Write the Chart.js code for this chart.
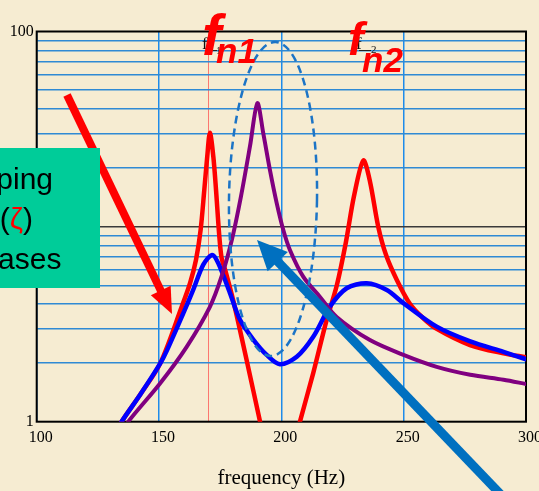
<!DOCTYPE html>
<html>
<head>
<meta charset="utf-8">
<script src="https://cdn.jsdelivr.net/npm/chart.js@4.4.1/dist/chart.umd.min.js"></script>
<style>
  html, body { margin: 0; padding: 0; background: #F6ECD2; }
  canvas { display: block; }
</style>
</head>
<body>
<canvas id="c" width="539" height="491"></canvas>
<script>
// ---- data ----
const redFreq = [131, 134.7, 142.2, 150.5, 159.3, 162.7, 165.1, 167.0, 168.5, 169.7, 170.8, 172.2, 173.3, 174.6, 175.6, 177.4, 180.4, 185.8, 191.3, 194, 199.5, 205, 207.6, 213.0, 218.2, 222.7, 226.4, 229.7, 233.5, 236.2, 239.6, 242.8, 247.2, 252.6, 257.9, 263.5, 277.1, 290.8, 300];
const redAmp  = [0.82, 1.0, 1.37, 1.99, 3.89, 5.14, 6.74, 9.61, 15.4, 22.8, 30.3, 22.8, 15.4, 9.06, 6.90, 5.78, 4.15, 2.07, 1.0, 0.70, 0.2, 0.74, 1.0, 1.77, 3.21, 5.02, 8.34, 14.35, 21.8, 17.1, 9.99, 7.15, 5.33, 4.01, 3.40, 2.99, 2.47, 2.24, 2.14];

const blueFreq = [131, 134.7, 142.2, 150.5, 153.1, 159.9, 164, 168.1, 171.7, 174.2, 179, 183.1, 188.6, 194, 199.4, 206.3, 213.1, 219.8, 226.7, 234.9, 243.1, 249.9, 263.5, 277.2, 290.8, 300];
const blueAmp  = [0.82, 1.0, 1.37, 1.99, 2.3, 3.59, 4.75, 6.38, 7.16, 6.5, 4.56, 3.33, 2.63, 2.2, 1.97, 2.15, 2.73, 3.88, 4.83, 5.12, 4.73, 4.05, 3.07, 2.58, 2.28, 2.09];

const purpleFreq = [134, 137.4, 150.4, 161.3, 170.8, 175.7, 179.8, 183.5, 187.2, 190.2, 192.6, 195.4, 198.1, 200.8, 203.5, 209.0, 215.8, 222.6, 236.2, 249.9, 263.5, 277.2, 290.8, 300];
const purpleAmp  = [0.85, 1.0, 1.57, 2.42, 3.88, 5.62, 8.59, 14.3, 25.9, 42.9, 30.1, 19.3, 13.2, 9.6, 7.59, 5.52, 4.36, 3.44, 2.62, 2.2, 1.91, 1.74, 1.64, 1.56];

const xTickValues = [100, 150, 170.3, 200, 250, 300];
const xTickLabels = ['100', '150', '', '200', '250', '300'];
const yTickValues = [1, 2, 3, 4, 5, 6, 7, 8, 9, 10, 20, 30, 40, 50, 60, 70, 80, 90, 100];
const yTickLabels = ['1', '', '', '', '', '', '', '', '', '', '', '', '', '', '', '', '', '', '100'];
const fn1Marker = 170.3;
const xTitle = 'frequency (Hz)';

const pts = (xs, ys) => xs.map((x, i) => ({ x: x, y: ys[i] }));
const serif = '"Liberation Serif", "Times New Roman", serif';
const sans = '"Liberation Sans", Arial, sans-serif';

const bgPlugin = {
  id: 'bg',
  beforeDraw(chart) {
    const ctx = chart.ctx;
    ctx.save();
    ctx.fillStyle = '#F6ECD2';
    ctx.fillRect(0, 0, chart.width, chart.height);
    ctx.restore();
  }
};

const boxPlugin = {
  id: 'box',
  beforeDatasetsDraw(chart) {
    const a = chart.chartArea, ctx = chart.ctx;
    ctx.save();
    ctx.strokeStyle = '#000';
    ctx.lineWidth = 2;
    ctx.strokeRect(a.left, a.top, a.right - a.left, a.bottom - a.top);
    ctx.restore();
  }
};

function arrow(ctx, x0, y0, x1, y1, w, headLen, headHalf, color) {
  const dx = x1 - x0, dy = y1 - y0, L = Math.hypot(dx, dy);
  const ux = dx / L, uy = dy / L;
  const bx = x1 - ux * headLen, by = y1 - uy * headLen;
  ctx.save();
  ctx.strokeStyle = color; ctx.fillStyle = color;
  ctx.lineWidth = w; ctx.lineCap = 'butt';
  ctx.beginPath(); ctx.moveTo(x0, y0); ctx.lineTo(bx + ux * 2, by + uy * 2); ctx.stroke();
  ctx.beginPath();
  ctx.moveTo(x1, y1);
  ctx.lineTo(bx - uy * headHalf, by + ux * headHalf);
  ctx.lineTo(bx + uy * headHalf, by - ux * headHalf);
  ctx.closePath(); ctx.fill();
  ctx.restore();
}

const overlayPlugin = {
  id: 'overlay',
  afterDraw(chart) {
    const ctx = chart.ctx;
    // dashed ellipse
    ctx.save();
    ctx.strokeStyle = '#1C74C6';
    ctx.lineWidth = 2.5;
    ctx.setLineDash([8, 5]);
    ctx.beginPath();
    ctx.ellipse(273, 199, 44, 157, 0.015, 0, Math.PI * 2);
    ctx.stroke();
    ctx.restore();

    // red arrow
    arrow(ctx, 67, 95, 172, 314, 8, 26, 11, '#FF0000');

    // teal box with text
    ctx.save();
    ctx.fillStyle = '#00CC99';
    ctx.fillRect(0, 148, 100, 140);
    ctx.beginPath(); ctx.rect(0, 148, 100, 140); ctx.clip();
    ctx.font = '30px ' + sans;
    ctx.fillStyle = '#000';
    ctx.textBaseline = 'alphabetic';
    ctx.textAlign = 'left';
    const tx = -67;
    ctx.fillText('Damping', tx, 189);
    const p1 = 'ratio (';
    ctx.fillText(p1, tx, 229);
    const w1 = ctx.measureText(p1).width;
    ctx.fillStyle = '#FF0000';
    ctx.fillText('ζ', tx + w1, 229);
    const w2 = ctx.measureText('ζ').width;
    ctx.fillStyle = '#000';
    ctx.fillText(')', tx + w1 + w2, 229);
    ctx.fillText('increases', tx, 269);
    ctx.restore();

    // small f1 / f2 labels
    ctx.save();
    ctx.fillStyle = '#111';
    ctx.strokeStyle = '#222';
    ctx.lineWidth = 1;
    ctx.font = '17px ' + serif;
    ctx.fillText('f', 202, 49);
    ctx.fillText('f', 356, 49);
    ctx.font = '11px ' + serif;
    ctx.fillText('1', 216, 54);
    ctx.fillText('2', 371, 53);
    ctx.beginPath();
    ctx.moveTo(205, 50.5); ctx.lineTo(217, 50.5);
    ctx.moveTo(359, 50.5); ctx.lineTo(371, 50.5);
    ctx.stroke();
    ctx.restore();

    // big red fn1 / fn2 labels
    ctx.save();
    ctx.fillStyle = '#FF0000';
    ctx.textBaseline = 'alphabetic';
    ctx.font = 'italic bold 58px ' + sans;
    ctx.fillText('f', 202, 55);
    ctx.font = 'italic bold 47px ' + sans;
    ctx.fillText('f', 348, 55);
    ctx.font = 'italic bold 35px ' + sans;
    ctx.fillText('n1', 216, 63);
    ctx.fillText('n2', 362, 72);
    ctx.restore();

    // blue arrow
    arrow(ctx, 530, 525, 257, 240, 9, 30, 14, '#0070C0');
  }
};

new Chart(document.getElementById('c'), {
  type: 'line',
  data: {
    datasets: [
      { label: 'high damping', data: pts(purpleFreq, purpleAmp), borderColor: '#800080', borderWidth: 4, order: 0 },
      { label: 'medium damping', data: pts(blueFreq, blueAmp), borderColor: '#0000FF', borderWidth: 4.5, order: 1 },
      { label: 'low damping', data: pts(redFreq, redAmp), borderColor: '#FF0000', borderWidth: 4.5, order: 2 }
    ]
  },
  options: {
    responsive: false,
    animation: false,
    devicePixelRatio: 1,
    layout: { padding: { top: 31.5, right: 13, left: 0, bottom: 0 } },
    elements: {
      point: { radius: 0 },
      line: { tension: 0.3, fill: false, borderJoinStyle: 'round', borderCapStyle: 'round', capBezierPoints: false }
    },
    datasets: { line: { clip: 0 } },
    plugins: { legend: { display: false }, tooltip: { enabled: false } },
    scales: {
      x: {
        type: 'linear', min: 100, max: 300,
        afterBuildTicks: s => { s.ticks = xTickValues.map(v => ({ value: v })); },
        afterFit: s => { s.height = 69.3; s.paddingLeft = 0; s.paddingRight = 0; },
        ticks: {
          autoSkip: false, maxRotation: 0, padding: 6, labelOffset: 4,
          color: '#000', font: { family: serif, size: 16 },
          callback: v => { const i = xTickValues.indexOf(v); return i >= 0 ? xTickLabels[i] : ''; }
        },
        grid: {
          drawTicks: false,
          color: c => (c.tick && c.tick.value === fn1Marker) ? 'rgba(255,70,70,0.7)' : '#1E8BEA',
          lineWidth: c => (c.tick && c.tick.value === fn1Marker) ? 1 : 1.5
        },
        border: { display: false },
        title: { display: true, text: xTitle, color: '#000', font: { family: serif, size: 21 }, padding: { top: 0, bottom: 0 } }
      },
      y: {
        type: 'logarithmic', min: 1, max: 100,
        afterBuildTicks: s => { s.ticks = yTickValues.map(v => ({ value: v })); },
        afterFit: s => { s.width = 36.7; s.paddingTop = 0; s.paddingBottom = 0; },
        ticks: {
          autoSkip: false, padding: 3, color: '#000', font: { family: serif, size: 16 },
          callback: v => { const i = yTickValues.indexOf(v); return i >= 0 ? yTickLabels[i] : ''; }
        },
        grid: {
          drawTicks: false,
          color: c => {
            const v = c.tick && c.tick.value;
            if (v === 1 || v === 100) return 'rgba(0,0,0,0)';
            if (v === 10) return '#3A3A3A';
            return '#2F8AD4';
          },
          lineWidth: 1.5
        },
        border: { display: false }
      }
    }
  },
  plugins: [bgPlugin, boxPlugin, overlayPlugin]
});
</script>
</body>
</html>
